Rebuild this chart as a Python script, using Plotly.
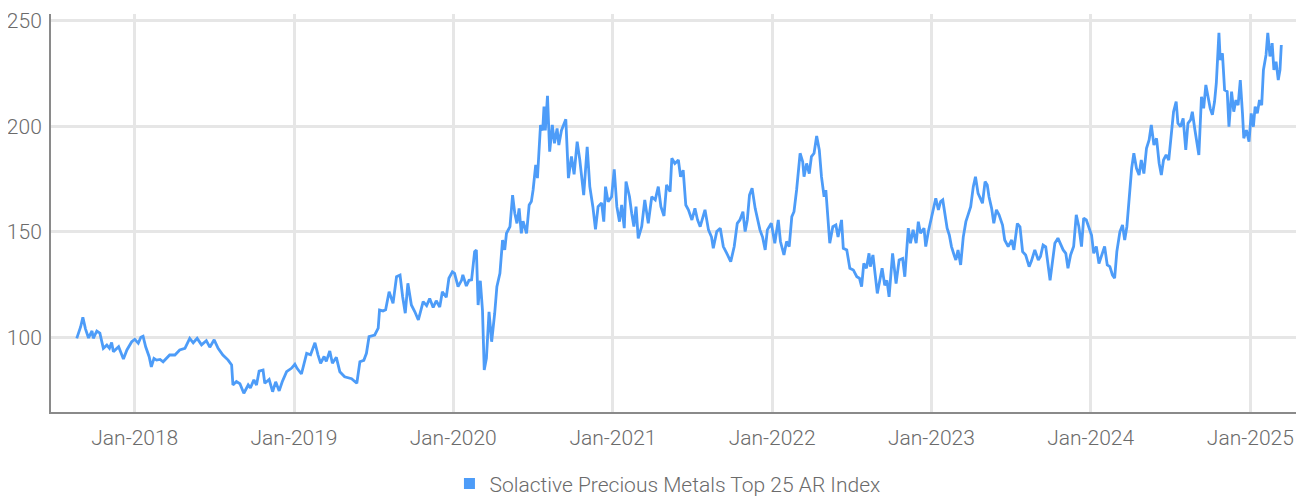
import pandas as pd
import plotly.graph_objects as go

# ---- data ----
series_name = "Solactive Precious Metals Top 25 AR Index"

dates = [
    "2017-08-21","2017-08-30","2017-09-04","2017-09-10","2017-09-17","2017-09-25","2017-09-28","2017-10-06",
    "2017-10-13","2017-10-21","2017-10-29","2017-11-04","2017-11-09","2017-11-13","2017-11-25","2017-12-06",
    "2017-12-14","2017-12-25",
    "2018-01-01","2018-01-09","2018-01-15","2018-01-20","2018-01-26","2018-02-03","2018-02-08","2018-02-14",
    "2018-02-20","2018-02-28","2018-03-07","2018-03-22","2018-04-03","2018-04-14","2018-04-26","2018-05-07",
    "2018-05-15","2018-05-24","2018-06-03","2018-06-14","2018-06-22","2018-07-02","2018-07-11","2018-07-22",
    "2018-08-03","2018-08-11","2018-08-14","2018-08-22","2018-08-30","2018-09-08","2018-09-18","2018-09-23",
    "2018-10-01","2018-10-07","2018-10-13","2018-10-22","2018-10-26","2018-11-05","2018-11-13","2018-11-20",
    "2018-11-28","2018-12-05","2018-12-15","2018-12-26",
    "2019-01-03","2019-01-08","2019-01-18","2019-01-30","2019-02-08","2019-02-18","2019-02-25","2019-03-03",
    "2019-03-11","2019-03-16","2019-03-24","2019-03-30","2019-04-08","2019-04-16","2019-04-27","2019-05-05",
    "2019-05-13","2019-05-25","2019-06-01","2019-06-10","2019-06-16","2019-06-22","2019-07-05","2019-07-13",
    "2019-07-16","2019-07-24","2019-07-30","2019-08-07","2019-08-16","2019-08-24","2019-09-01","2019-09-07",
    "2019-09-13","2019-09-19","2019-09-27","2019-10-05","2019-10-13","2019-10-24","2019-11-01","2019-11-08",
    "2019-11-16","2019-11-23","2019-12-01","2019-12-07","2019-12-16","2019-12-22","2019-12-30",
    "2020-01-04","2020-01-12","2020-01-20","2020-01-23","2020-01-31","2020-02-06","2020-02-12","2020-02-19",
    "2020-02-23","2020-02-27","2020-03-03","2020-03-08","2020-03-12","2020-03-17","2020-03-23","2020-03-29",
    "2020-04-05","2020-04-10","2020-04-17","2020-04-23","2020-04-28","2020-05-02","2020-05-10","2020-05-16",
    "2020-05-21","2020-05-26","2020-05-31","2020-06-05","2020-06-09","2020-06-17","2020-06-23","2020-06-28",
    "2020-07-02","2020-07-08","2020-07-12","2020-07-19","2020-07-24","2020-07-27","2020-07-30","2020-08-04",
    "2020-08-09","2020-08-15","2020-08-20","2020-08-26","2020-08-30","2020-09-05","2020-09-15","2020-09-21",
    "2020-09-28","2020-10-04","2020-10-11","2020-10-17","2020-10-26","2020-11-03","2020-11-09","2020-11-16",
    "2020-11-22","2020-11-28","2020-12-06","2020-12-11","2020-12-15","2020-12-21","2020-12-29",
    "2021-01-04","2021-01-10","2021-01-16","2021-01-21","2021-01-27","2021-01-31","2021-02-08","2021-02-13",
    "2021-02-18","2021-02-23","2021-02-28","2021-03-08","2021-03-15","2021-03-23","2021-03-31","2021-04-08",
    "2021-04-15","2021-04-21","2021-04-28","2021-05-04","2021-05-12","2021-05-16","2021-05-23","2021-05-31",
    "2021-06-05","2021-06-11","2021-06-17","2021-06-23","2021-07-01","2021-07-08","2021-07-14","2021-07-20",
    "2021-07-31","2021-08-08","2021-08-15","2021-08-19","2021-08-27","2021-09-04","2021-09-11","2021-09-19",
    "2021-09-28","2021-10-06","2021-10-13","2021-10-19","2021-10-26","2021-10-31","2021-11-05","2021-11-10",
    "2021-11-16","2021-11-23","2021-11-28","2021-12-04","2021-12-10","2021-12-16","2021-12-21","2021-12-30",
    "2022-01-07","2022-01-15","2022-01-20","2022-01-28","2022-02-03","2022-02-09","2022-02-15","2022-02-20",
    "2022-02-26","2022-03-06","2022-03-12","2022-03-15","2022-03-21","2022-03-27","2022-04-01","2022-04-07",
    "2022-04-13","2022-04-19","2022-04-24","2022-04-30","2022-05-04","2022-05-10","2022-05-13","2022-05-20",
    "2022-05-27","2022-06-01","2022-06-09","2022-06-13","2022-06-21","2022-06-28","2022-07-06","2022-07-14",
    "2022-07-20","2022-07-25","2022-07-30","2022-08-05","2022-08-11","2022-08-14","2022-08-20","2022-08-30",
    "2022-09-05","2022-09-10","2022-09-16","2022-09-21","2022-09-26","2022-10-04","2022-10-12","2022-10-19",
    "2022-10-27","2022-11-01","2022-11-09","2022-11-14","2022-11-20","2022-11-27","2022-12-02","2022-12-07",
    "2022-12-15","2022-12-19","2022-12-25",
    "2023-01-01","2023-01-07","2023-01-11","2023-01-17","2023-01-22","2023-01-27","2023-02-01","2023-02-06",
    "2023-02-11","2023-02-16","2023-02-22","2023-02-26","2023-03-03","2023-03-09","2023-03-15","2023-03-21",
    "2023-03-26","2023-04-01","2023-04-07","2023-04-12","2023-04-18","2023-04-24","2023-04-28","2023-05-04",
    "2023-05-09","2023-05-13","2023-05-19","2023-05-24","2023-05-30","2023-06-05","2023-06-13","2023-06-18",
    "2023-06-26","2023-07-04","2023-07-09","2023-07-17","2023-07-23","2023-07-29","2023-08-05","2023-08-13",
    "2023-08-18","2023-08-26","2023-09-03","2023-09-08","2023-09-14","2023-09-20","2023-09-26","2023-09-30",
    "2023-10-05","2023-10-11","2023-10-18","2023-10-22","2023-10-30","2023-11-05","2023-11-10","2023-11-16",
    "2023-11-23","2023-11-29","2023-12-05","2023-12-11","2023-12-16","2023-12-22","2023-12-28",
    "2024-01-03","2024-01-08","2024-01-14","2024-01-20","2024-01-28","2024-02-02","2024-02-08","2024-02-14",
    "2024-02-20","2024-02-25","2024-03-01","2024-03-08","2024-03-14","2024-03-19","2024-03-24","2024-03-29",
    "2024-04-04","2024-04-09","2024-04-15","2024-04-21","2024-04-26","2024-05-02","2024-05-08","2024-05-14",
    "2024-05-19","2024-05-25","2024-05-31","2024-06-06","2024-06-11","2024-06-16","2024-06-22","2024-06-28",
    "2024-07-04","2024-07-09","2024-07-15","2024-07-19","2024-07-25","2024-07-31","2024-08-06","2024-08-11",
    "2024-08-17","2024-08-21","2024-08-27","2024-09-01","2024-09-05","2024-09-11","2024-09-16","2024-09-21",
    "2024-09-26","2024-10-01","2024-10-06","2024-10-11","2024-10-15","2024-10-19","2024-10-21","2024-10-24",
    "2024-10-29","2024-11-03","2024-11-09","2024-11-13","2024-11-19","2024-11-24","2024-11-29","2024-12-04",
    "2024-12-09","2024-12-14","2024-12-17","2024-12-23","2024-12-29",
    "2025-01-03","2025-01-08","2025-01-12","2025-01-17","2025-01-22","2025-01-27","2025-01-31","2025-02-06",
    "2025-02-10","2025-02-15","2025-02-20","2025-02-24","2025-03-01","2025-03-06","2025-03-10","2025-03-13",
]

values = [
    99.5,105.0,109.5,104.0,99.7,103.0,99.5,103.0,
    102.0,94.8,96.3,94.8,97.5,93.2,95.5,89.7,
    94.0,97.9,
    99.0,97.2,100.0,100.5,95.5,90.8,86.0,90.0,
    89.2,89.5,88.4,91.6,91.6,94.0,94.8,99.5,
    97.4,99.5,96.4,98.4,95.3,98.8,94.8,91.6,
    89.2,86.9,77.4,79.0,78.0,73.5,77.4,76.0,
    79.8,77.4,84.0,84.5,78.2,80.0,74.2,78.9,
    74.6,78.9,83.7,85.3,
    87.2,85.3,82.6,92.4,91.7,97.4,91.7,87.7,
    90.9,88.6,93.5,87.7,90.5,83.7,81.3,81.0,
    80.4,78.2,88.4,89.1,92.4,100.3,101.1,104.3,
    112.9,112.5,113.0,121.6,116.1,128.7,129.5,119.2,
    111.4,125.6,115.3,112.1,108.2,116.9,115.0,118.4,
    114.1,117.3,114.3,121.6,119.0,128.0,131.0,
    130.3,124.0,127.0,129.6,124.3,127.0,127.2,140.6,
    141.4,115.3,126.8,112.9,84.5,90.0,112.1,97.9,
    111.4,124.0,130.3,146.1,141.4,149.3,152.4,167.4,
    158.8,154.0,161.1,149.3,155.0,149.3,162.7,164.3,
    169.8,181.7,175.4,200.6,198.0,209.3,198.0,214.4,
    188.0,200.6,191.9,199.0,191.1,198.0,203.3,175.4,
    185.7,177.2,192.7,184.2,167.4,190.3,171.4,161.9,
    151.2,161.9,163.7,154.8,171.4,164.2,166.6,
    179.6,161.9,154.8,162.7,151.7,173.8,166.6,158.8,
    152.5,161.9,146.9,152.5,165.1,154.0,166.6,165.1,
    171.4,161.9,157.5,172.2,169.0,184.8,182.4,184.0,
    176.1,179.2,162.7,160.4,155.6,161.1,155.6,152.4,
    160.4,150.9,147.5,142.2,150.1,151.7,143.0,139.8,
    135.8,143.0,154.0,155.6,159.5,150.1,155.6,167.4,
    170.6,161.1,155.6,150.9,147.5,141.4,150.9,154.0,
    144.6,155.6,145.4,139.0,145.4,143.0,157.2,159.5,
    169.8,187.2,183.2,176.1,182.4,177.6,185.6,187.2,
    195.4,188.8,176.1,166.6,169.8,155.6,144.6,152.4,
    153.2,147.5,155.6,142.2,141.4,132.7,131.9,128.7,
    128.0,124.0,135.0,132.7,139.8,133.5,139.0,120.8,
    127.0,132.7,124.6,127.0,119.2,139.8,125.5,136.6,
    137.3,128.7,151.7,144.6,150.9,144.6,154.8,149.3,
    151.7,143.0,150.1,
    157.2,163.5,165.9,160.4,164.3,165.1,158.0,151.7,
    148.5,143.0,139.0,136.6,141.4,134.3,147.5,154.8,
    158.0,161.9,171.4,176.1,168.2,165.1,163.5,173.8,
    172.2,166.6,161.1,154.0,160.4,158.0,153.2,146.1,
    143.0,146.1,141.4,153.9,152.4,140.6,139.0,133.5,
    136.0,141.4,136.6,138.3,143.7,142.9,133.5,127.0,
    135.0,144.6,147.0,145.3,141.4,139.8,132.7,139.0,
    143.0,158.0,152.4,143.0,156.5,155.6,152.4,
    148.5,139.8,143.0,135.0,139.8,143.0,134.3,133.5,
    129.5,128.0,140.6,150.0,153.2,146.1,152.4,163.5,
    180.1,187.2,180.1,176.9,184.0,177.6,189.6,193.5,
    200.6,191.1,194.3,182.4,176.9,184.0,186.4,184.0,
    195.9,206.9,211.7,201.4,199.8,203.7,188.8,201.4,
    203.0,206.9,198.2,191.9,186.4,214.0,208.5,219.6,
    213.3,208.5,205.4,211.7,220.4,237.7,244.3,231.4,
    234.6,217.2,216.4,199.8,216.4,206.9,212.4,210.0,
    221.9,206.1,194.3,198.2,192.7,
    206.1,199.8,209.3,206.1,212.4,210.0,226.7,233.8,
    244.3,233.1,239.4,226.7,230.6,221.9,226.7,238.5,
]

y_ticks = [100, 150, 200, 250]
x_tick_start = "2018-01-01"
x_range = ["2017-06-23", "2025-05-04"]
y_range = [64.6, 253.2]

LINE_COLOR = "#4d9cf8"
TEXT_COLOR = "#6b6b6b"
GRID_COLOR = "#e6e6e6"
AXIS_COLOR = "#8a8a8a"
FONT = "Roboto, sans-serif"

df = pd.DataFrame({"date": pd.to_datetime(dates), "value": values})

fig = go.Figure()
fig.add_trace(go.Scatter(
    x=df["date"], y=df["value"], mode="lines",
    line=dict(color=LINE_COLOR, width=2.8),
    name=series_name, showlegend=False,
))
# legend entry drawn as a square swatch
fig.add_trace(go.Scatter(
    x=[None], y=[None], mode="markers",
    marker=dict(symbol="square", size=11, color=LINE_COLOR),
    name=series_name, showlegend=True,
))

tick_font = dict(family=FONT, size=21, color=TEXT_COLOR, weight=300)

# the page body has an 8px default margin, so the figure is sized to fit the window
fig.update_layout(
    width=1296, height=488,
    margin=dict(l=43, r=0, t=6, b=84),
    paper_bgcolor="white", plot_bgcolor="white",
    font=dict(family=FONT, color=TEXT_COLOR, size=21, weight=300),
    legend=dict(orientation="h", x=0.318, xanchor="left",
                yref="container", y=0.025, yanchor="middle",
                font=tick_font, itemwidth=30),
    showlegend=True,
)
fig.update_xaxes(
    type="date", range=x_range, tick0=x_tick_start, dtick="M12", tickformat="%b-%Y",
    showgrid=True, gridcolor=GRID_COLOR, gridwidth=2.5,
    showline=True, linecolor=AXIS_COLOR, linewidth=2,
    ticks="", zeroline=False, ticklabelstandoff=6, automargin=False,
    tickfont=tick_font,
)
fig.update_yaxes(
    range=y_range, tickvals=y_ticks,
    showgrid=True, gridcolor=GRID_COLOR, gridwidth=2.5,
    showline=True, linecolor=AXIS_COLOR, linewidth=2,
    ticks="", zeroline=False, ticklabelstandoff=3, automargin=False,
    tickfont=tick_font,
)

fig.write_html("out.html")
